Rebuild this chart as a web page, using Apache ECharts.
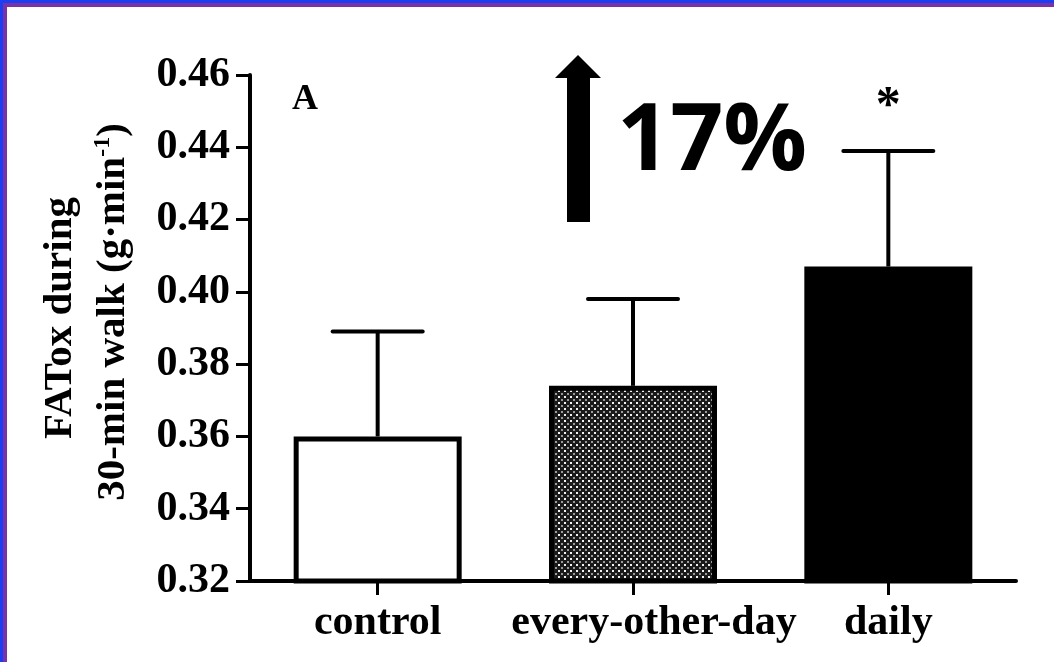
<!DOCTYPE html>
<html><head><meta charset="utf-8">
<script src="https://cdn.jsdelivr.net/npm/echarts@6/dist/echarts.min.js"></script>
<style>
html,body{margin:0;padding:0;background:#fff;}
#wrap{position:relative;width:1054px;height:662px;overflow:hidden;background:#fff;}
#chart{position:absolute;left:0;top:0;width:1054px;height:662px;}
#f1{position:absolute;left:0;top:0;width:1054px;height:662px;box-sizing:border-box;border-top:3px solid #1b3ef2;border-left:3px solid #1b3ef2;pointer-events:none;}
#f2{position:absolute;left:3px;top:3px;width:1051px;height:659px;box-sizing:border-box;border-top:4px solid #7634a8;border-left:4px solid #7634a8;pointer-events:none;}
</style></head>
<body><div id="wrap"><div id="chart"></div><div id="f1"></div><div id="f2"></div></div>
<script>
var categories = ['control', 'every-other-day', 'daily'];
var means = [0.360, 0.374, 0.407];
var upperErr = [0.389, 0.398, 0.439];
var significance = ['', '', '*'];
var yTicks = {min: 0.32, max: 0.46, interval: 0.02};

function makePattern() {
  var c = document.createElement('canvas');
  c.width = 6; c.height = 6;
  var g = c.getContext('2d');
  g.fillStyle = '#1a1a1a'; g.fillRect(0, 0, 6, 6);
  g.fillStyle = '#f2f2f2'; g.fillRect(0, 0, 2, 2);
  g.fillStyle = '#9a9a9a'; g.fillRect(3, 3, 2, 2);
  return c;
}
var fills = ['#ffffff', {image: makePattern(), repeat: 'repeat'}, '#000000'];
var serif = '"Liberation Serif", "Times New Roman", serif';
var labelFont = {color: '#000', fontFamily: serif, fontWeight: 'bold', fontSize: 42};

var chart = echarts.init(document.getElementById('chart'), null, {renderer: 'canvas'});
var barData = means.map(function (v, i) {
  return {value: v, itemStyle: {color: fills[i], borderColor: '#000', borderWidth: 5}};
});
var errData = means.map(function (v, i) { return [i, v, upperErr[i]]; });

chart.setOption({
  animation: false,
  backgroundColor: '#fff',
  grid: {left: 250, right: 38, top: 75, bottom: 81},
  xAxis: {
    type: 'category', data: categories,
    axisLine: {lineStyle: {color: '#000', width: 4}},
    axisTick: {show: true, alignWithLabel: true, length: 14, lineStyle: {color: '#000', width: 3}},
    axisLabel: Object.assign({interval: 0, hideOverlap: false, margin: 21,
      formatter: function (v, idx) { return idx === 1 ? '{sh|' + v + '}' : '{n|' + v + '}'; },
      rich: {n: Object.assign({}, labelFont), sh: Object.assign({padding: [0, 0, 0, 42]}, labelFont)}
    }, labelFont)
  },
  yAxis: {
    type: 'value', min: yTicks.min, max: yTicks.max, interval: yTicks.interval,
    splitLine: {show: false},
    axisLine: {show: true, lineStyle: {color: '#000', width: 4}},
    axisTick: {show: true, length: 14, lineStyle: {color: '#000', width: 3}},
    axisLabel: Object.assign({margin: 20, formatter: function (v) { return v.toFixed(2); }}, labelFont)
  },
  series: [
    {type: 'bar', data: barData, barWidth: 168, z: 2},
    {
      type: 'custom', data: errData, z: 3,
      encode: {x: 0, y: [1, 2]},
      renderItem: function (params, api) {
        var i = api.value(0);
        var p0 = api.coord([i, api.value(1)]);
        var p1 = api.coord([i, api.value(2)]);
        var half = 45;
        var ch = [
          {type: 'line', shape: {x1: p0[0], y1: p0[1], x2: p1[0], y2: p1[1]}, style: {stroke: '#000', lineWidth: 4}},
          {type: 'line', shape: {x1: p1[0] - half, y1: p1[1], x2: p1[0] + half, y2: p1[1]}, style: {stroke: '#000', lineWidth: 4, lineCap: 'round'}}
        ];
        var s = significance[params.dataIndex];
        if (s) {
          ch.push({type: 'text', x: p1[0], y: p1[1] - 44, style: {text: s, fill: '#000', font: 'bold 50px ' + serif, textAlign: 'center', textVerticalAlign: 'middle'}});
        }
        return {type: 'group', children: ch};
      }
    }
  ],
  graphic: [
    {type: 'text', x: 60, y: 318, rotation: Math.PI / 2,
      style: {text: 'FATox during', fill: '#000', font: 'bold 41px ' + serif, textAlign: 'center', textVerticalAlign: 'middle'}},
    {type: 'text', x: 113, y: 312, rotation: Math.PI / 2,
      style: {text: '{a|30-min walk (g·min}{s|-1}{a|)}', fill: '#000', textAlign: 'center', textVerticalAlign: 'middle',
        rich: {a: {font: 'bold 41px ' + serif, fill: '#000', lineHeight: 44},
               s: {font: 'bold 24px ' + serif, fill: '#000', verticalAlign: 'top', lineHeight: 44}}}},
    {type: 'text', x: 292, y: 100,
      style: {text: 'A', fill: '#000', font: 'bold 36px ' + serif, textAlign: 'left', textVerticalAlign: 'middle'}},
    {type: 'polygon', shape: {points: [[567, 222], [567, 78], [555, 78], [578, 55], [601, 78], [590, 78], [590, 222]]},
      style: {fill: '#000'}},
    {type: 'text', x: 617, y: 143,
      style: {text: '17%', fill: '#000', font: 'bold 93px "Open Sans", sans-serif', textAlign: 'left', textVerticalAlign: 'middle'}}
  ]
});
</script></body></html>
